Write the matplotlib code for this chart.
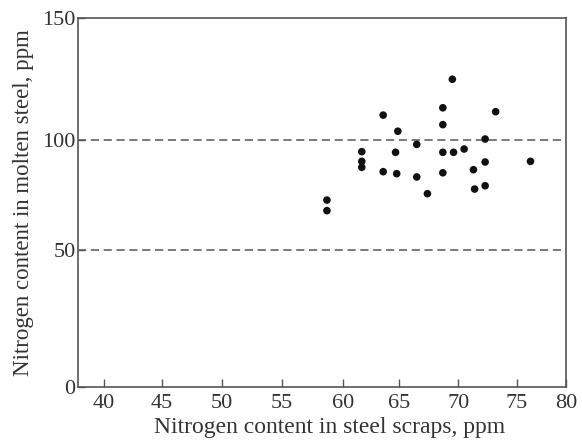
import numpy as np
import matplotlib
matplotlib.use("Agg")
import matplotlib.pyplot as plt

# Data
scrap_n = [69.5, 68.7, 73.2, 63.6, 68.7, 64.9, 72.3, 66.5, 61.7, 64.7, 68.7, 69.6,
           70.5, 61.7, 72.3, 76.4, 61.7, 63.6, 64.8, 68.7, 71.3, 66.5, 67.4, 71.4,
           72.3, 58.7, 58.7]
molten_n = [124.9, 113.2, 111.6, 110.2, 106.3, 103.6, 100.4, 98.0, 94.7, 94.4, 94.4, 94.4,
            95.9, 90.3, 90.0, 90.3, 87.6, 85.6, 84.7, 85.1, 86.5, 83.2, 75.6, 77.7,
            79.2, 72.7, 67.9]
x_ticks = [40, 45, 50, 55, 60, 65, 70, 75, 80]
y_ticks = [0, 50, 100, 150]
ref_lines = [50, 100]

# the printed axes are not evenly spaced: piecewise-linear scales reproduce them
x_anchor_pos = [0.0, 58.0, 118.0, 178.6, 239.0, 295.3, 354.6, 413.0, 462.3]
y_anchor_pos = [0.0, 137.0, 247.0, 369.0]


def make_scale(vals, pos):
    vals = np.asarray(vals, float)
    pos = np.asarray(pos, float)

    def fwd(v):
        v = np.asarray(v, float)
        out = np.interp(v, vals, pos)
        s0 = (pos[1] - pos[0]) / (vals[1] - vals[0])
        s1 = (pos[-1] - pos[-2]) / (vals[-1] - vals[-2])
        out = np.where(v < vals[0], pos[0] + (v - vals[0]) * s0, out)
        out = np.where(v > vals[-1], pos[-1] + (v - vals[-1]) * s1, out)
        return out

    def inv(p):
        p = np.asarray(p, float)
        out = np.interp(p, pos, vals)
        s0 = (vals[1] - vals[0]) / (pos[1] - pos[0])
        s1 = (vals[-1] - vals[-2]) / (pos[-1] - pos[-2])
        out = np.where(p < pos[0], vals[0] + (p - pos[0]) * s0, out)
        out = np.where(p > pos[-1], vals[-1] + (p - pos[-1]) * s1, out)
        return out

    return fwd, inv


plt.rcParams['font.family'] = ['Liberation Serif', 'DejaVu Serif']
fig = plt.figure(figsize=(5.82, 4.42), dpi=100)
ax = fig.add_axes([0.1345, 0.1244, 0.838, 0.8349])

ax.set_xscale('function', functions=make_scale(x_ticks, x_anchor_pos))
ax.set_yscale('function', functions=make_scale(y_ticks, y_anchor_pos))

for r in ref_lines:
    ax.axhline(r, color='#7a7a7a', lw=1.4, ls=(0, (4.2, 2.4)), zorder=1)

ax.scatter(scrap_n, molten_n, s=30, color='#111111', edgecolors='none', zorder=3)

ax.set_xlim(37.82, 80)
ax.set_ylim(0, 150)
ax.set_xticks(x_ticks)
ax.set_yticks(y_ticks)
ax.tick_params(direction='in', length=6, width=1.0, color='#555555',
               labelsize=16, labelcolor='#333333')
ax.tick_params(axis='y', pad=2, length=5)
ax.tick_params(axis='x', pad=5)
for sp in ax.spines.values():
    sp.set_color('#555555')
    sp.set_linewidth(1.2)

ax.set_xlabel('Nitrogen content in steel scraps, ppm', fontsize=17, color='#333333', labelpad=3)
ax.xaxis.set_label_coords(0.515, -0.082)
ax.set_ylabel('Nitrogen content in molten steel, ppm', fontsize=16.5, color='#333333', labelpad=6)

fig.savefig('out.png', dpi=100)
